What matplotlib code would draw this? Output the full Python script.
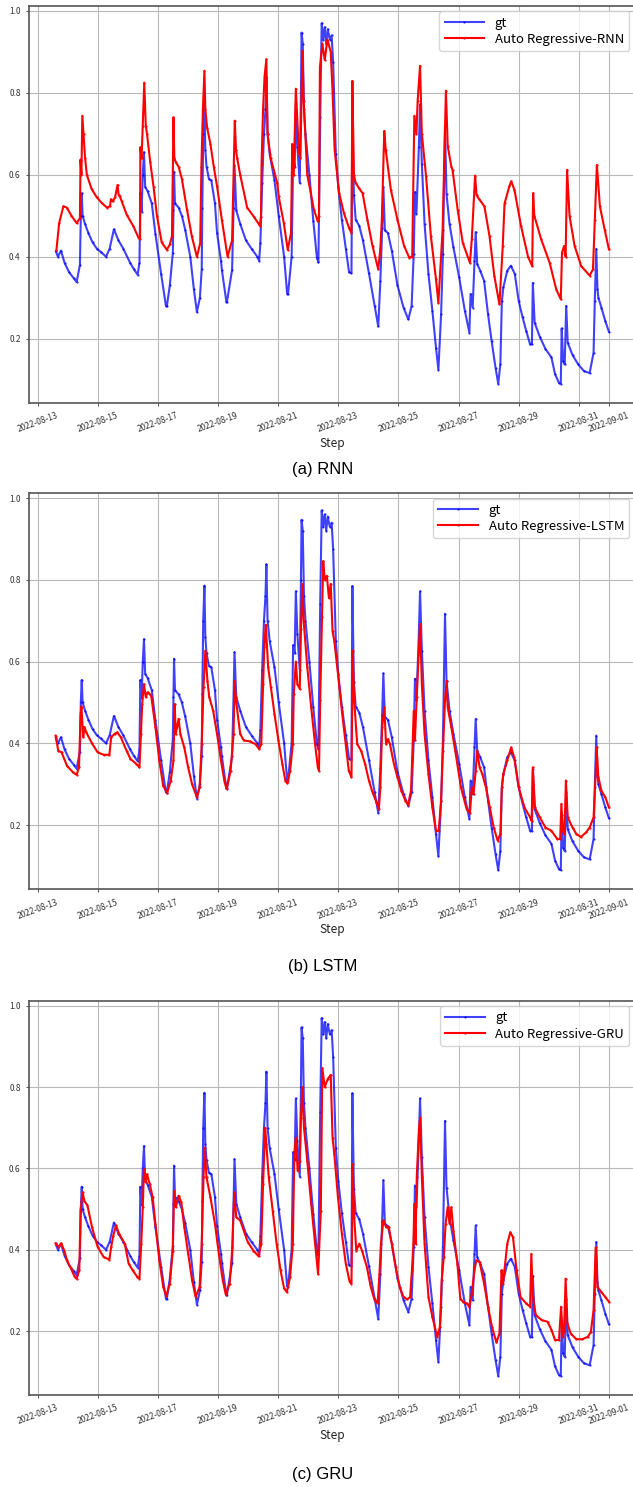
import matplotlib
matplotlib.use('Agg')
import matplotlib.pyplot as plt
import matplotlib.dates as mdates
import pandas as pd

# days after 2022-08-13 00:00
gt_days = [0.61, 0.68, 0.78, 0.90, 1.05, 1.20, 1.30, 1.41, 1.44, 1.47, 1.50, 1.58, 1.69, 1.83, 1.97, 2.10, 2.28, 2.40,
           2.54, 2.69, 2.85, 3.08, 3.20, 3.33, 3.39, 3.42, 3.46, 3.50, 3.54, 3.58, 3.66, 3.80, 3.92, 4.11, 4.27, 4.30,
           4.40, 4.50, 4.52, 4.54, 4.57, 4.69, 4.80, 4.91, 5.08, 5.20, 5.30, 5.40, 5.46, 5.48, 5.51, 5.55, 5.58, 5.62,
           5.70, 5.78, 5.90, 5.97, 6.10, 6.13, 6.28, 6.30, 6.47, 6.52, 6.55, 6.61, 6.74, 6.93, 7.12, 7.31, 7.37, 7.41,
           7.47, 7.53, 7.58, 7.61, 7.65, 7.72, 7.88, 8.02, 8.20, 8.30, 8.33, 8.45, 8.50, 8.55, 8.59, 8.64, 8.72, 8.76,
           8.78, 8.82, 8.86, 8.91, 9.04, 9.17, 9.29, 9.34, 9.40, 9.45, 9.50, 9.55, 9.60, 9.65, 9.72, 9.78, 9.83, 9.92,
           10.00, 10.12, 10.25, 10.36, 10.44, 10.47, 10.52, 10.58, 10.70, 10.82, 11.02, 11.21, 11.33, 11.40, 11.46,
           11.50, 11.55, 11.65, 11.78, 11.97, 12.17, 12.33, 12.44, 12.51, 12.55, 12.60, 12.68, 12.72, 12.78, 12.87,
           13.00, 13.13, 13.25, 13.33, 13.42, 13.48, 13.55, 13.60, 13.70, 13.83, 14.02, 14.21, 14.36, 14.40, 14.47,
           14.53, 14.57, 14.62, 14.72, 14.85, 14.98, 15.10, 15.23, 15.32, 15.39, 15.44, 15.49, 15.62, 15.74, 15.87,
           16.00, 16.13, 16.25, 16.38, 16.44, 16.47, 16.53, 16.70, 16.89, 17.09, 17.21, 17.34, 17.40, 17.43, 17.48,
           17.53, 17.58, 17.63, 17.79, 17.98, 18.17, 18.36, 18.49, 18.53, 18.58, 18.62, 18.65, 18.75, 18.88, 19.00]
gt_vals = [0.413, 0.40, 0.415, 0.385, 0.362, 0.348, 0.338, 0.38, 0.50, 0.555, 0.50, 0.48, 0.458, 0.435, 0.42, 0.412,
           0.40, 0.42, 0.467, 0.44, 0.42, 0.385, 0.37, 0.356, 0.385, 0.555, 0.51, 0.60, 0.655, 0.57, 0.56, 0.53, 0.456,
           0.358, 0.28, 0.279, 0.33, 0.41, 0.513, 0.607, 0.53, 0.52, 0.50, 0.466, 0.40, 0.32, 0.265, 0.30, 0.37, 0.52,
           0.70, 0.786, 0.66, 0.62, 0.59, 0.586, 0.53, 0.458, 0.39, 0.368, 0.29, 0.29, 0.368, 0.52, 0.623, 0.513, 0.48,
           0.44, 0.419, 0.40, 0.39, 0.433, 0.58, 0.70, 0.76, 0.838, 0.70, 0.65, 0.586, 0.50, 0.40, 0.31, 0.309, 0.40,
           0.64, 0.62, 0.772, 0.668, 0.58, 0.80, 0.947, 0.92, 0.76, 0.70, 0.60, 0.488, 0.398, 0.386, 0.74, 0.97, 0.93,
           0.96, 0.92, 0.955, 0.93, 0.94, 0.875, 0.65, 0.57, 0.49, 0.42, 0.362, 0.36, 0.785, 0.55, 0.49, 0.475, 0.44,
           0.36, 0.28, 0.23, 0.34, 0.47, 0.571, 0.464, 0.458, 0.415, 0.33, 0.276, 0.247, 0.28, 0.407, 0.558, 0.505,
           0.668, 0.772, 0.627, 0.48, 0.358, 0.268, 0.178, 0.124, 0.26, 0.407, 0.717, 0.553, 0.48, 0.423, 0.35, 0.268,
           0.215, 0.309, 0.276, 0.39, 0.46, 0.382, 0.366, 0.341, 0.26, 0.194, 0.129, 0.09, 0.137, 0.292, 0.325, 0.366,
           0.378, 0.358, 0.292, 0.252, 0.219, 0.186, 0.186, 0.336, 0.239, 0.205, 0.175, 0.154, 0.113, 0.092, 0.09,
           0.225, 0.145, 0.137, 0.28, 0.19, 0.16, 0.137, 0.121, 0.116, 0.166, 0.292, 0.419, 0.32, 0.30, 0.276, 0.243,
           0.217]

rnn_days = [0.63, 0.72, 0.86, 0.97, 1.13, 1.30, 1.41, 1.43, 1.46, 1.49, 1.53, 1.58, 1.64, 1.80, 1.97, 2.15, 2.31,
            2.41, 2.44, 2.50, 2.58, 2.66, 2.70, 2.74, 2.80, 2.97, 3.19, 3.36, 3.41, 3.42, 3.46, 3.50, 3.55, 3.60, 3.64,
            3.75, 3.86, 3.97, 4.13, 4.30, 4.40, 4.47, 4.50, 4.52, 4.55, 4.60, 4.69, 4.80, 4.97, 5.13, 5.30, 5.41, 5.45,
            5.50, 5.55, 5.58, 5.64, 5.75, 5.86, 5.97, 6.13, 6.32, 6.47, 6.52, 6.56, 6.60, 6.64, 6.74, 6.97, 7.19, 7.39,
            7.43, 7.45, 7.50, 7.55, 7.61, 7.65, 7.75, 7.97, 8.02, 8.19, 8.32, 8.43, 8.47, 8.52, 8.59, 8.69, 8.74, 8.81,
            8.85, 8.97, 9.19, 9.32, 9.36, 9.39, 9.47, 9.55, 9.64, 9.75, 9.81, 9.88, 10.03, 10.19, 10.36, 10.44, 10.47,
            10.52, 10.58, 10.69, 10.81, 10.97, 11.14, 11.33, 11.40, 11.45, 11.53, 11.58, 11.75, 11.97, 12.19, 12.36,
            12.46, 12.53, 12.60, 12.64, 12.72, 12.78, 12.92, 13.08, 13.25, 13.33, 13.47, 13.58, 13.64, 13.76, 13.80,
            13.97, 14.14, 14.38, 14.44, 14.55, 14.60, 14.69, 14.86, 15.03, 15.19, 15.36, 15.47, 15.53, 15.69, 15.75,
            15.86, 16.08, 16.31, 16.45, 16.48, 16.52, 16.75, 17.03, 17.25, 17.40, 17.44, 17.51, 17.56, 17.61, 17.69,
            17.86, 18.08, 18.36, 18.47, 18.53, 18.60, 18.70, 18.86, 19.00]
rnn_vals = [0.417, 0.482, 0.523, 0.52, 0.50, 0.482, 0.494, 0.637, 0.60, 0.744, 0.70, 0.642, 0.60, 0.565, 0.545, 0.53,
            0.52, 0.523, 0.54, 0.535, 0.545, 0.575, 0.55, 0.547, 0.535, 0.502, 0.474, 0.446, 0.443, 0.667, 0.64, 0.72,
            0.825, 0.72, 0.70, 0.63, 0.57, 0.50, 0.435, 0.417, 0.43, 0.45, 0.61, 0.74, 0.64, 0.63, 0.62, 0.59, 0.515,
            0.45, 0.40, 0.433, 0.62, 0.76, 0.854, 0.76, 0.715, 0.675, 0.62, 0.572, 0.49, 0.40, 0.44, 0.60, 0.732, 0.66,
            0.64, 0.60, 0.52, 0.498, 0.476, 0.498, 0.626, 0.76, 0.84, 0.882, 0.70, 0.642, 0.58, 0.547, 0.482, 0.417,
            0.458, 0.675, 0.60, 0.81, 0.655, 0.64, 0.902, 0.78, 0.60, 0.515, 0.486, 0.50, 0.862, 0.92, 0.88, 0.93,
            0.90, 0.805, 0.66, 0.555, 0.506, 0.47, 0.458, 0.829, 0.60, 0.58, 0.567, 0.555, 0.49, 0.426, 0.369, 0.42,
            0.49, 0.707, 0.66, 0.563, 0.49, 0.426, 0.398, 0.40, 0.744, 0.70, 0.78, 0.866, 0.70, 0.596, 0.45, 0.345,
            0.287, 0.466, 0.805, 0.67, 0.62, 0.612, 0.515, 0.434, 0.385, 0.442, 0.598, 0.55, 0.54, 0.523, 0.45, 0.353,
            0.284, 0.426, 0.53, 0.572, 0.584, 0.563, 0.474, 0.40, 0.377, 0.555, 0.50, 0.442, 0.385, 0.32, 0.296, 0.41,
            0.426, 0.40, 0.612, 0.50, 0.426, 0.377, 0.354, 0.369, 0.49, 0.624, 0.523, 0.466, 0.418]

lstm_days = [0.60, 0.69, 0.80, 0.98, 1.18, 1.30, 1.38, 1.43, 1.46, 1.52, 1.56, 1.62, 1.81, 2.00, 2.20, 2.39, 2.45,
             2.56, 2.65, 2.77, 2.96, 3.09, 3.28, 3.39, 3.44, 3.48, 3.54, 3.60, 3.66, 3.73, 3.78, 3.92, 4.05, 4.18, 4.31,
             4.43, 4.52, 4.56, 4.60, 4.69, 4.75, 4.88, 5.01, 5.14, 5.30, 5.39, 5.46, 5.52, 5.58, 5.65, 5.71, 5.84, 5.97,
             6.10, 6.22, 6.29, 6.42, 6.52, 6.55, 6.60, 6.74, 6.86, 7.05, 7.25, 7.37, 7.44, 7.50, 7.54, 7.59, 7.67, 7.76,
             7.88, 8.01, 8.14, 8.24, 8.31, 8.40, 8.49, 8.52, 8.59, 8.64, 8.72, 8.76, 8.81, 8.85, 8.97, 9.10, 9.23, 9.32,
             9.36, 9.40, 9.46, 9.50, 9.55, 9.62, 9.69, 9.75, 9.81, 9.87, 9.99, 10.12, 10.25, 10.35, 10.44, 10.48, 10.53,
             10.63, 10.76, 10.89, 11.02, 11.14, 11.27, 11.35, 11.40, 11.46, 11.53, 11.59, 11.65, 11.72, 11.85, 11.97,
             12.10, 12.23, 12.32, 12.42, 12.46, 12.51, 12.55, 12.61, 12.68, 12.72, 12.78, 12.87, 13.00, 13.13, 13.25,
             13.34, 13.42, 13.48, 13.55, 13.60, 13.64, 13.76, 13.89, 14.08, 14.27, 14.38, 14.44, 14.50, 14.57, 14.62,
             14.70, 14.79, 14.91, 15.04, 15.17, 15.30, 15.39, 15.44, 15.49, 15.62, 15.75, 15.85, 16.00, 16.19, 16.38,
             16.43, 16.47, 16.54, 16.70, 16.89, 17.09, 17.28, 17.38, 17.42, 17.47, 17.52, 17.57, 17.63, 17.79, 17.92,
             18.07, 18.24, 18.36, 18.49, 18.56, 18.59, 18.65, 18.75, 18.88, 19.00]
lstm_vals = [0.419, 0.382, 0.378, 0.345, 0.329, 0.323, 0.341, 0.468, 0.49, 0.415, 0.44, 0.427, 0.40, 0.378, 0.372,
             0.372, 0.415, 0.423, 0.427, 0.415, 0.382, 0.362, 0.35, 0.341, 0.423, 0.496, 0.545, 0.513, 0.525, 0.52,
             0.517, 0.44, 0.358, 0.296, 0.278, 0.309, 0.358, 0.496, 0.423, 0.46, 0.423, 0.39, 0.341, 0.30, 0.268, 0.292,
             0.398, 0.537, 0.627, 0.553, 0.513, 0.48, 0.423, 0.358, 0.305, 0.288, 0.333, 0.423, 0.553, 0.505, 0.423,
             0.407, 0.405, 0.398, 0.386, 0.398, 0.545, 0.635, 0.69, 0.586, 0.537, 0.472, 0.407, 0.35, 0.309, 0.302,
             0.333, 0.398, 0.52, 0.60, 0.545, 0.533, 0.68, 0.79, 0.70, 0.586, 0.488, 0.398, 0.341, 0.333, 0.505, 0.71,
             0.846, 0.80, 0.81, 0.756, 0.79, 0.675, 0.65, 0.57, 0.48, 0.398, 0.333, 0.317, 0.627, 0.505, 0.398, 0.382,
             0.35, 0.309, 0.28, 0.256, 0.239, 0.292, 0.44, 0.488, 0.398, 0.41, 0.398, 0.35, 0.317, 0.284, 0.26, 0.25,
             0.284, 0.366, 0.48, 0.407, 0.513, 0.627, 0.692, 0.545, 0.423, 0.325, 0.243, 0.186, 0.186, 0.26, 0.382,
             0.505, 0.553, 0.488, 0.44, 0.382, 0.292, 0.239, 0.229, 0.292, 0.276, 0.333, 0.382, 0.341, 0.325, 0.292,
             0.243, 0.194, 0.162, 0.178, 0.292, 0.325, 0.358, 0.39, 0.366, 0.292, 0.243, 0.219, 0.21, 0.341, 0.243,
             0.219, 0.194, 0.186, 0.166, 0.166, 0.252, 0.186, 0.178, 0.309, 0.219, 0.194, 0.178, 0.171, 0.182, 0.194,
             0.219, 0.325, 0.39, 0.317, 0.284, 0.268, 0.243]

gru_days = [0.60, 0.69, 0.79, 0.89, 0.98, 1.11, 1.24, 1.30, 1.39, 1.43, 1.50, 1.56, 1.66, 1.81, 2.00, 2.20, 2.39,
            2.45, 2.52, 2.61, 2.71, 2.90, 3.03, 3.16, 3.32, 3.39, 3.45, 3.50, 3.54, 3.60, 3.64, 3.73, 3.83, 3.92, 4.05,
            4.18, 4.28, 4.40, 4.50, 4.54, 4.60, 4.69, 4.78, 4.88, 5.01, 5.14, 5.26, 5.39, 5.46, 5.52, 5.56, 5.62, 5.75,
            5.90, 6.03, 6.16, 6.26, 6.39, 6.48, 6.54, 6.61, 6.74, 6.86, 6.99, 7.18, 7.35, 7.44, 7.50, 7.57, 7.61, 7.69,
            7.82, 7.95, 8.08, 8.20, 8.29, 8.40, 8.49, 8.54, 8.59, 8.65, 8.72, 8.76, 8.81, 8.86, 8.97, 9.10, 9.23, 9.33,
            9.42, 9.47, 9.55, 9.65, 9.75, 9.81, 9.87, 9.99, 10.12, 10.25, 10.38, 10.44, 10.48, 10.53, 10.60, 10.70,
            10.79, 10.95, 11.08, 11.21, 11.31, 11.37, 11.42, 11.50, 11.59, 11.68, 11.78, 11.91, 12.04, 12.17, 12.29,
            12.39, 12.45, 12.50, 12.53, 12.57, 12.61, 12.68, 12.72, 12.78, 12.87, 13.00, 13.13, 13.29, 13.38, 13.44,
            13.51, 13.57, 13.64, 13.70, 13.76, 13.83, 13.96, 14.06, 14.15, 14.27, 14.36, 14.44, 14.53, 14.59, 14.70,
            14.85, 14.98, 15.11, 15.26, 15.36, 15.43, 15.48, 15.62, 15.72, 15.81, 15.93, 16.06, 16.25, 16.38, 16.42,
            16.47, 16.57, 16.77, 16.96, 17.09, 17.21, 17.34, 17.41, 17.47, 17.51, 17.56, 17.62, 17.73, 17.92, 18.11,
            18.30, 18.40, 18.49, 18.53, 18.56, 18.62, 18.75, 18.88, 19.00]
gru_vals = [0.416, 0.407, 0.416, 0.398, 0.374, 0.354, 0.333, 0.329, 0.35, 0.496, 0.541, 0.52, 0.509, 0.456, 0.407,
            0.382, 0.376, 0.407, 0.435, 0.46, 0.44, 0.415, 0.366, 0.35, 0.333, 0.329, 0.415, 0.505, 0.598, 0.566, 0.586,
            0.562, 0.529, 0.464, 0.374, 0.309, 0.286, 0.317, 0.398, 0.545, 0.505, 0.533, 0.517, 0.456, 0.39, 0.325,
            0.284, 0.309, 0.415, 0.578, 0.651, 0.578, 0.529, 0.464, 0.39, 0.325, 0.29, 0.317, 0.407, 0.541, 0.48, 0.472,
            0.447, 0.419, 0.398, 0.384, 0.415, 0.562, 0.70, 0.66, 0.578, 0.496, 0.415, 0.35, 0.305, 0.296, 0.333, 0.415,
            0.635, 0.676, 0.594, 0.619, 0.725, 0.80, 0.70, 0.619, 0.513, 0.415, 0.34, 0.496, 0.847, 0.80, 0.82, 0.83,
            0.676, 0.635, 0.529, 0.44, 0.366, 0.321, 0.317, 0.61, 0.48, 0.398, 0.415, 0.398, 0.358, 0.309, 0.276, 0.268,
            0.341, 0.415, 0.472, 0.456, 0.456, 0.415, 0.358, 0.309, 0.284, 0.278, 0.284, 0.35, 0.415, 0.513, 0.415,
            0.578, 0.692, 0.725, 0.578, 0.415, 0.284, 0.235, 0.186, 0.211, 0.325, 0.382, 0.464, 0.505, 0.464, 0.505,
            0.447, 0.366, 0.28, 0.272, 0.268, 0.26, 0.292, 0.35, 0.374, 0.37, 0.317, 0.26, 0.211, 0.172, 0.194, 0.35,
            0.317, 0.415, 0.443, 0.431, 0.35, 0.284, 0.268, 0.26, 0.39, 0.284, 0.239, 0.227, 0.223, 0.203, 0.178,
            0.178, 0.26, 0.186, 0.20, 0.329, 0.219, 0.194, 0.18, 0.18, 0.186, 0.198, 0.252, 0.341, 0.406, 0.309,
            0.296, 0.284, 0.272]

models = ['RNN', 'LSTM', 'GRU']
captions = ['(a) RNN', '(b) LSTM', '(c) GRU']

start = pd.Timestamp('2022-08-13')


def to_time(days):
     return start + pd.to_timedelta(days, unit='D')


ui_font = ['Noto Sans CJK KR', 'DejaVu Sans']

fig = plt.figure(figsize=(6.33, 14.87), dpi=100)
boxes = [[0.0458, 0.7290, 0.9570, 0.2670],
         [0.0458, 0.4020, 0.9570, 0.2663],
         [0.0458, 0.0619, 0.9570, 0.2650]]
caption_y = [0.684, 0.3497, 0.0081]
preds = [(rnn_days, rnn_vals), (lstm_days, lstm_vals), (gru_days, gru_vals)]

for i, name in enumerate(models):
     ax = fig.add_axes(boxes[i])
     ax.plot(to_time(gt_days), gt_vals, color='blue', marker='.', markersize=1.2, linewidth=1.5,
             alpha=0.75, label='gt')
     p_days, p_vals = preds[i]
     ax.plot(to_time(p_days), p_vals, color='red', marker='.', markersize=1.2, linewidth=1.5,
             label=f'Auto Regressive-{name}')

     ax.set_xlim(start - pd.Timedelta(hours=6.8), start + pd.Timedelta(days=19.86))
     ax.set_ylim(0.043, 1.012)
     ax.set_yticks([0.2, 0.4, 0.6, 0.8, 1.0])
     ax.xaxis.set_major_locator(mdates.DayLocator(bymonthday=range(1, 32, 2)))
     ax.xaxis.set_major_formatter(mdates.DateFormatter('%Y-%m-%d'))
     ax.grid(True, color='#b8b8b8', linewidth=0.8)
     for s in ax.spines.values():
          s.set_color('#555555')
          s.set_linewidth(1.2)
     ax.tick_params(labelsize=6, length=2.5, width=0.6, colors='#333333')
     for lab in ax.get_xticklabels():
          lab.set_rotation(20)
          lab.set_family(ui_font)
     for lab in ax.get_yticklabels():
          lab.set_family(ui_font)
     ax.set_xlabel('Step', fontsize=8.5, family=ui_font, color='#222222', labelpad=2)
     ax.legend(loc='upper right', prop={'family': ui_font, 'size': 9.5}, borderaxespad=0.4,
               handlelength=3, labelspacing=0.25)
     fig.text(0.51, caption_y[i], captions[i], ha='center', va='center', fontsize=12,
              family='Liberation Sans')

fig.savefig('out.png', dpi=100)
